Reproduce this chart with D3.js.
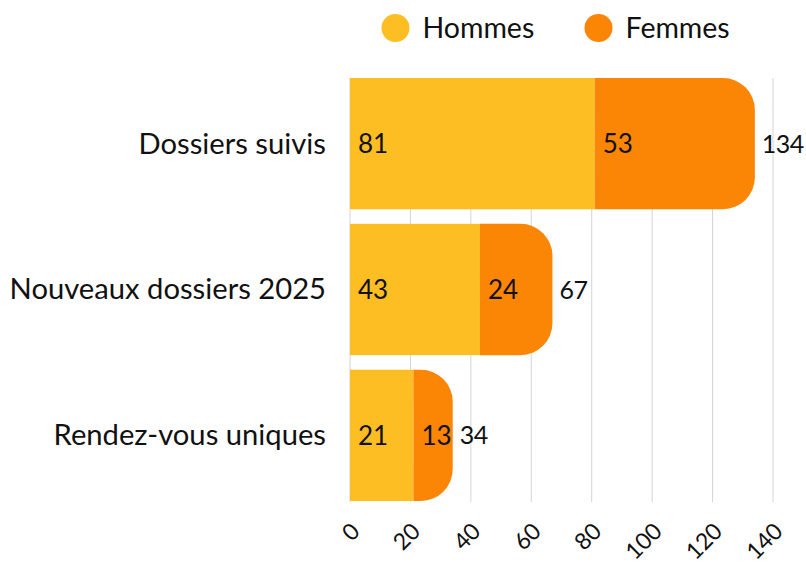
<!DOCTYPE html>
<html><head><meta charset="utf-8">
<script src="https://cdn.jsdelivr.net/npm/d3@7"></script>
<style>body{margin:0;background:#fff}svg{display:block}text{font-family:Lato,"Open Sans",sans-serif;fill:#111}</style>
</head><body><svg id="c" width="806" height="565"></svg>
<script>
const categories = ["Dossiers suivis", "Nouveaux dossiers 2025", "Rendez-vous uniques"];
const hommes = [81, 43, 21];
const femmes = [53, 24, 13];
const seriesNames = ["Hommes", "Femmes"];
const colors = ["#FDBE24", "#FB8505"];
const ticks = [0, 20, 40, 60, 80, 100, 120, 140];

const svg = d3.select("#c");
const fsWord = 29.2, fsNum = 26;
const x = d3.scaleLinear().domain([0, 140]).range([350, 773]);
const y = d3.scaleBand().domain(categories).range([78, 501]).paddingInner(0.1).paddingOuter(0);

// grid
svg.append("g").selectAll("line").data(ticks).join("line")
  .attr("x1", d => x(d)).attr("x2", d => x(d))
  .attr("y1", 78).attr("y2", 502)
  .attr("stroke", "#d4d4d4").attr("stroke-width", 1);

const data = categories.map((c, i) => ({cat: c, h: hommes[i], f: femmes[i], t: hommes[i] + femmes[i]}));
const R = 32;
function roundRight(x0, x1, y0, h) {
  const r = Math.min(R, x1 - x0, h / 2);
  const p = d3.path();
  p.moveTo(x0, y0);
  p.lineTo(x1 - r, y0);
  p.arcTo(x1, y0, x1, y0 + r, r);
  p.lineTo(x1, y0 + h - r);
  p.arcTo(x1, y0 + h, x1 - r, y0 + h, r);
  p.lineTo(x0, y0 + h);
  p.closePath();
  return p.toString();
}
const g = svg.append("g");
g.selectAll("rect.h").data(data).join("rect")
  .attr("x", x(0)).attr("y", d => y(d.cat))
  .attr("width", d => x(d.h) - x(0)).attr("height", y.bandwidth())
  .attr("fill", colors[0]);
g.selectAll("path.f").data(data).join("path")
  .attr("d", d => roundRight(x(d.h), x(d.t), y(d.cat), y.bandwidth()))
  .attr("fill", colors[1]);

const lab = svg.append("g").attr("font-size", fsNum);
lab.selectAll("text.h").data(data).join("text")
  .attr("x", d => x(0) + 8).attr("y", d => y(d.cat) + y.bandwidth() / 2)
  .attr("dy", "0.36em").text(d => d.h);
lab.selectAll("text.f").data(data).join("text")
  .attr("x", d => x(d.h) + 8).attr("y", d => y(d.cat) + y.bandwidth() / 2)
  .attr("dy", "0.36em").text(d => d.f);
lab.selectAll("text.t").data(data).join("text")
  .attr("x", d => x(d.t) + 7).attr("y", d => y(d.cat) + y.bandwidth() / 2)
  .attr("dy", "0.36em").attr("font-size", 25).attr("letter-spacing", -0.5).text(d => d.t);
lab.selectAll("text.c").data(data).join("text")
  .attr("x", 326).attr("y", d => y(d.cat) + y.bandwidth() / 2)
  .attr("dy", "0.34em").attr("font-size", fsWord).attr("text-anchor", "end").text(d => d.cat);

// x axis labels
const ax = svg.append("g").attr("transform", "translate(0,527)")
  .call(d3.axisBottom(x).tickValues(ticks).tickSize(0).tickPadding(0));
ax.select(".domain").remove();
ax.selectAll("text").attr("font-size", 23).attr("font-family", "Lato")
  .attr("fill", "#111")
  .attr("text-anchor", "end").attr("x", 5).attr("y", 0).attr("dy", "0.35em")
  .attr("transform", "rotate(-45 5 0)");

// legend
const leg = svg.append("g");
const lx = [395.5, 598.5];
seriesNames.forEach((n, i) => {
  leg.append("circle").attr("cx", lx[i]).attr("cy", 28).attr("r", 14).attr("fill", colors[i]);
  leg.append("text").attr("x", lx[i] + 27).attr("y", 28).attr("dy", "0.35em")
    .attr("font-size", 28.5).text(n);
});
</script></body></html>
